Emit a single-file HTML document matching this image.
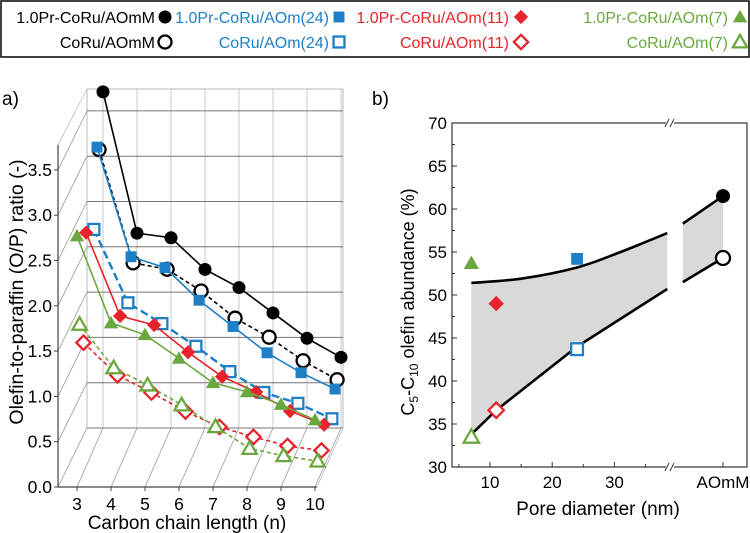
<!DOCTYPE html>
<html><head><meta charset="utf-8"><style>
body{margin:0;background:#fff;}
svg{display:block;font-family:"Liberation Sans",sans-serif;}
</style></head><body>
<svg id="chart" width="750" height="533" viewBox="0 0 750 533">
<g id="legend">
<rect x="1" y="1" width="748" height="56" fill="#fff" stroke="#000" stroke-width="1.5"/>
</g>
<g id="pa"></g>
<g id="pb"></g>
</svg>
<script>
// ---- Panel A data ----
const chainLengths=[3,4,5,6,7,8,9,10];
const yTicksA=[0,0.5,1,1.5,2,2.5,3,3.5];
const blackFilled=[3.71,2.15,2.10,1.75,1.55,1.27,0.99,0.78];
const blackOpen=[3.17,1.92,1.85,1.61,1.31,1.10,0.84,0.63];
const blueFilled=[3.25,2.04,1.92,1.56,1.27,0.98,0.76,0.58];
const blueOpen=[2.42,1.61,1.38,1.13,0.85,0.62,0.50,0.33];
const redFilled=[2.58,1.66,1.56,1.26,0.99,0.82,0.61,0.46];
const greenFilled=[2.77,1.81,1.68,1.42,1.15,1.05,0.91,0.74];
const redOpen=[1.43,1.07,0.88,0.67,0.50,0.39,0.29,0.24];
const greenOpen=[1.73,1.25,1.06,0.84,0.60,0.36,0.28,0.22];
// ---- Panel B data ----
const poreTicks=[10,20,30];
const yTicksB=[30,35,40,45,50,55,60,65,70];
const bPoints=[
 {name:'green-filled',d:7,v:53.7},{name:'red-filled',d:11,v:49},{name:'blue-filled',d:24,v:54.2},
 {name:'black-filled',d:'AOmM',v:61.5},{name:'black-open',d:'AOmM',v:54.3},
 {name:'blue-open',d:24,v:43.7},{name:'red-open',d:11,v:36.6},{name:'green-open',d:7,v:33.5}];
const upperCurve=[[7,51.4],[15,51.9],[24,53.2],[31,55.0],[38.5,57.2]];
const upperCurve2=[[41,58.3],['AOmM',61.5]];
const lowerCurve=[[7,33.8],[11,36.6],[24,44],[38.5,50.7]];
const lowerCurve2=[[41,51.5],['AOmM',54.3]];

const NS='http://www.w3.org/2000/svg';
function el(p,t,a,txt){const e=document.createElementNS(NS,t);for(const k in a)e.setAttribute(k,a[k]);if(txt!==undefined)e.textContent=txt;p.appendChild(e);return e;}
const C={k:'#000',b:'#1d7fc6',r:'#e8232b',g:'#6aa83f'};

function marker(p,shape,x,y,col,filled,s){
 const f=filled?col:'#fff',sw=filled?0:2.3;let m;
 if(shape==='circle')m=el(p,'circle',{cx:x,cy:y,r:s/2,fill:f,stroke:col,'stroke-width':filled?0:2.3});
 else if(shape==='square'){const h=s*0.42;m=el(p,'rect',{x:x-h,y:y-h,width:2*h,height:2*h,fill:f,stroke:col,'stroke-width':sw});}
 else if(shape==='diamond'){const h=s*0.55;m=el(p,'polygon',{points:`${x},${y-h} ${x+h},${y} ${x},${y+h} ${x-h},${y}`,fill:f,stroke:col,'stroke-width':sw});}
 else {const h=s*0.55;m=el(p,'polygon',{points:`${x},${y-h} ${x+h},${y+h*0.75} ${x-h},${y+h*0.75}`,fill:f,stroke:col,'stroke-width':sw});}
 return m;
}

// ---- Legend ----
const lg=document.getElementById('legend');
const legItems=[
 ['1.0Pr-CoRu/AOmM',C.k,'circle',true,155,17,165],['CoRu/AOmM',C.k,'circle',false,155,42,165],
 ['1.0Pr-CoRu/AOm(24)',C.b,'square',true,329,17,339],['CoRu/AOm(24)',C.b,'square',false,329,42,339],
 ['1.0Pr-CoRu/AOm(11)',C.r,'diamond',true,509,17,521],['CoRu/AOm(11)',C.r,'diamond',false,509,42,521],
 ['1.0Pr-CoRu/AOm(7)',C.g,'triangle',true,728,17,740],['CoRu/AOm(7)',C.g,'triangle',false,728,42,740]];
legItems.forEach(it=>{
 const t=el(lg,'text',{x:it[4],y:it[5]+6,'text-anchor':'end','font-size':16,fill:it[1]},it[0]);
 
 
 const m=marker(lg,it[2],it[6],it[5],it[1],it[3],13);
 
 
});

// ---- Panel A ----
const pa=document.getElementById('pa');
const Y0=487,PX=90.6,DX=26,DY=-59;
const xa=n=>77+(n-3)*34;
const ya=v=>Y0-v*PX;
function proj(n,v,d){return [xa(n)+d*DX, ya(v)+d*DY];}
el(pa,'text',{x:2,y:105,'font-size':19},'a)');
el(pa,'rect',{x:87,y:89,width:256,height:339,fill:'none',stroke:'#bbb','stroke-width':1});
chainLengths.forEach(n=>{const [x]=proj(n,0,1);el(pa,'line',{x1:x,y1:89,x2:x,y2:428,stroke:'#c8c8c8','stroke-width':1});});
yTicksA.forEach(v=>{const [,y]=proj(3,v,1);el(pa,'line',{x1:87,y1:y,x2:343,y2:y,stroke:'#777','stroke-width':1});});
yTicksA.forEach(v=>{const y=ya(v);el(pa,'line',{x1:58,y1:y,x2:87,y2:y+DY,stroke:'#999','stroke-width':0.8});});
el(pa,'line',{x1:58,y1:ya(3.5)-25,x2:87,y2:89,stroke:'#bbb','stroke-width':0.8});
chainLengths.forEach(n=>{el(pa,'line',{x1:xa(n),y1:Y0,x2:xa(n)+DX,y2:Y0+DY,stroke:'#999','stroke-width':0.8});});
el(pa,'line',{x1:xa(10)+2,y1:Y0,x2:343,y2:428,stroke:'#bbb','stroke-width':0.8});
el(pa,'line',{x1:58,y1:Y0,x2:58,y2:ya(3.5)-25,stroke:'#444','stroke-width':1.2,});
el(pa,'line',{x1:58,y1:Y0,x2:xa(10)+2,y2:Y0,stroke:'#444','stroke-width':1.2,});
yTicksA.forEach(v=>{const y=ya(v);el(pa,'line',{x1:54,y1:y,x2:58,y2:y,stroke:'#444'});
 el(pa,'text',{x:52,y:y+6,'text-anchor':'end','font-size':17.5},v.toFixed(1));});
chainLengths.forEach(n=>{el(pa,'line',{x1:xa(n),y1:Y0,x2:xa(n),y2:Y0+4,stroke:'#444'});
 el(pa,'text',{x:xa(n),y:510,'text-anchor':'middle','font-size':17.5},String(n));});
el(pa,'text',{x:187,y:529,'text-anchor':'middle','font-size':19,},'Carbon chain length (n)');
el(pa,'text',{x:0,y:0,transform:'translate(23,292) rotate(-90)','text-anchor':'middle','font-size':19.5,},'Olefin-to-paraffin (O/P) ratio (-)');
const seriesA=[
 [blackFilled,1,C.k,'circle',true,'',1.6,'black-filled'],
 [blackOpen,0.85,C.k,'circle',false,'4,3',1.6,'black-open'],
 [blueFilled,0.77,C.b,'square',true,'',1.6,'blue-filled'],
 [blueOpen,0.65,C.b,'square',false,'8,4',2.4,'blue-open'],
 [redFilled,0.35,C.r,'diamond',true,'',1.6,'red-filled'],
 [redOpen,0.25,C.r,'diamond',false,'4,3',1.6,'red-open'],
 [greenOpen,0.1,C.g,'triangle',false,'4,3',1.6,'green-open'],
 [greenFilled,0,C.g,'triangle',true,'',1.6,'green-filled']];
seriesA.forEach(s=>{
 const g=el(pa,'g',{});
 
 
 const pts=s[0].map((v,i)=>proj(chainLengths[i],v,s[1]));
 el(g,'polyline',{points:pts.map(p=>p.join(',')).join(' '),fill:'none',stroke:s[2],'stroke-width':s[6],'stroke-dasharray':s[5]||'none'});
 pts.forEach(p=>{const m=marker(g,s[3],p[0],p[1],s[2],s[4],13);
  
  });
});

// ---- Panel B ----
const pb=document.getElementById('pb');
const xb=d=>d==='AOmM'?723:490+(d-10)*6.22;
const yb=v=>467-(v-30)*8.6;
el(pb,'text',{x:372,y:105,'font-size':19},'b)');
function path(arr){return arr.map((p,i)=>(i?'L':'M')+xb(p[0])+','+yb(p[1])).join(' ');}
function smooth(arr){let s='M'+xb(arr[0][0])+','+yb(arr[0][1]);
 for(let i=1;i<arr.length;i++){const p0=arr[Math.max(i-2,0)],p1=arr[i-1],p2=arr[i],p3=arr[Math.min(i+1,arr.length-1)];
  const P=q=>[xb(q[0]),yb(q[1])];const a=P(p0),b=P(p1),c=P(p2),d=P(p3);
  s+=` C${b[0]+(c[0]-a[0])/6},${b[1]+(c[1]-a[1])/6} ${c[0]-(d[0]-b[0])/6},${c[1]-(d[1]-b[1])/6} ${c[0]},${c[1]}`;}
 return s;}
const rev=a=>a.slice().reverse();
el(pb,'path',{d:smooth(upperCurve)+' L'+path(rev(lowerCurve)).slice(1)+' Z',fill:'#d9d9d9',});
el(pb,'path',{d:path(upperCurve2)+' L'+path(rev(lowerCurve2)).slice(1)+' Z',fill:'#d9d9d9'});
el(pb,'rect',{x:452,y:123,width:295,height:344,fill:'none',stroke:'#333','stroke-width':1.2});
[123,467].forEach(y=>{el(pb,'rect',{x:666,y:y-3,width:8,height:6,fill:'#fff'});
 el(pb,'line',{x1:665,y1:y+4,x2:669,y2:y-4,stroke:'#333'});el(pb,'line',{x1:670,y1:y+4,x2:674,y2:y-4,stroke:'#333'});});
yTicksB.forEach(v=>{const y=yb(v);el(pb,'line',{x1:452,y1:y,x2:457,y2:y,stroke:'#333'});
 el(pb,'text',{x:447,y:y+6,'text-anchor':'end','font-size':17},String(v));});
for(let v=32.5;v<70;v+=5){el(pb,'line',{x1:452,y1:yb(v),x2:455,y2:yb(v),stroke:'#333'});}
poreTicks.forEach(d=>{el(pb,'line',{x1:xb(d),y1:467,x2:xb(d),y2:462,stroke:'#333'});
 el(pb,'text',{x:xb(d),y:488,'text-anchor':'middle','font-size':17},String(d));});
[5,15,25,35].forEach(d=>el(pb,'line',{x1:xb(d),y1:467,x2:xb(d),y2:464,stroke:'#333'}));
el(pb,'line',{x1:723,y1:467,x2:723,y2:462,stroke:'#333'});
el(pb,'text',{x:723,y:488,'text-anchor':'middle','font-size':17},'AOmM');
el(pb,'text',{x:598,y:515,'text-anchor':'middle','font-size':19,},'Pore diameter (nm)');
const yt=el(pb,'text',{x:0,y:0,transform:'translate(414,302) rotate(-90)','text-anchor':'middle','font-size':18,});
yt.innerHTML='C<tspan font-size="12" dy="4">5</tspan><tspan dy="-4">-C</tspan><tspan font-size="12" dy="4">10</tspan><tspan dy="-4"> olefin abundance (%)</tspan>';
[smooth(upperCurve),path(upperCurve2),path(lowerCurve),path(lowerCurve2)].forEach(d=>{
 el(pb,'path',{d:d,fill:'none',stroke:'#000','stroke-width':2.6,});});
const bStyle={'green-filled':[C.g,'triangle',true],'red-filled':[C.r,'diamond',true],'blue-filled':[C.b,'square',true],
 'black-filled':[C.k,'circle',true],'black-open':[C.k,'circle',false],'blue-open':[C.b,'square',false],
 'red-open':[C.r,'diamond',false],'green-open':[C.g,'triangle',false]};
bPoints.forEach(p=>{const s=bStyle[p.name];
 const m=marker(pb,s[1],xb(p.d),yb(p.v),s[0],s[2],14);
 
 });
</script>
</body></html>
